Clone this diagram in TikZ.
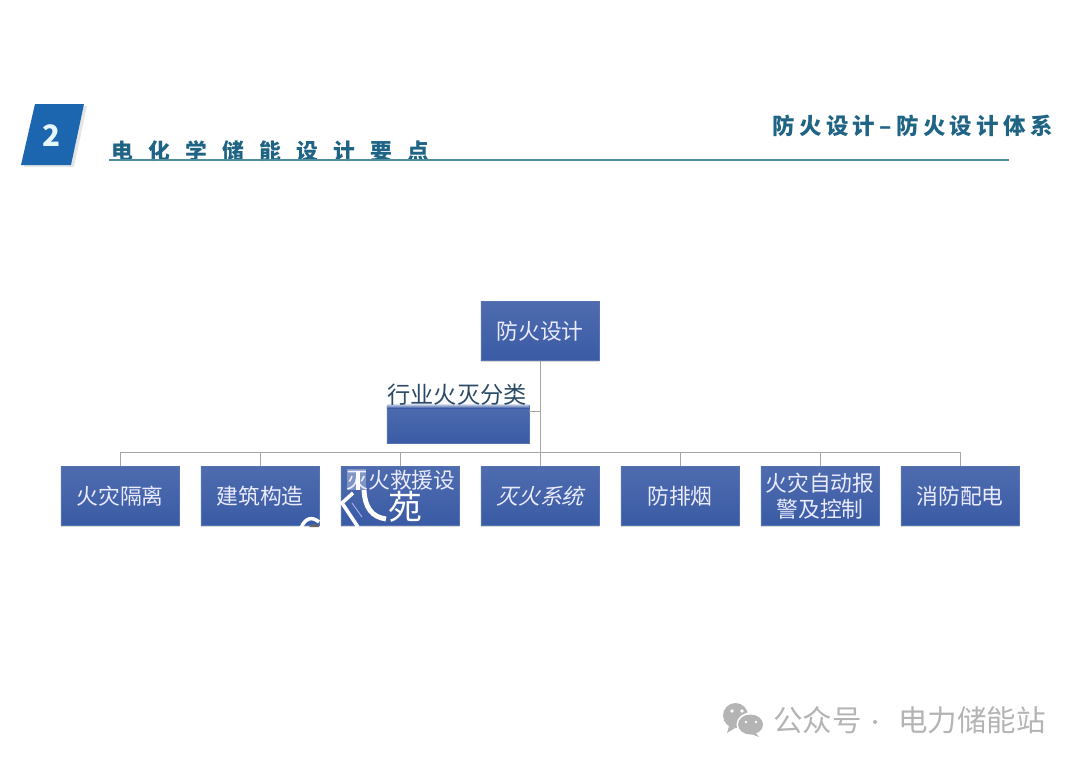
\documentclass[tikz,border=0pt]{standalone}
\usepackage{fontspec}
\usepackage{xcolor}
\setmainfont{Noto Sans CJK SC}
\newfontfamily\slantcjk[FakeSlant=0.25]{Noto Sans CJK SC}
\newfontfamily\titlecjk[LetterSpace=70]{Noto Sans CJK SC}
\newfontfamily\subcjk[LetterSpace=19]{Noto Sans CJK SC}
\usetikzlibrary{arrows,shapes,positioning,fit,calc,shadows}
\definecolor{boxblue}{HTML}{3A5BA5}
\definecolor{boxedge}{HTML}{5573B0}
\definecolor{headblue}{HTML}{1B66AE}
\definecolor{headtext}{HTML}{1F6485}
\definecolor{headline}{HTML}{4F8C9C}
\definecolor{labeltext}{HTML}{2B4A66}
\definecolor{wire}{HTML}{A6A6A6}
\definecolor{markgray}{HTML}{B4B4B4}
\tikzset{
  blockbox/.style={rectangle,draw=boxedge,line width=0.4pt,top color=boxblue!90!white,bottom color=boxblue,
    drop shadow={opacity=0.3,shadow xshift=0pt,shadow yshift=-1pt},
    minimum width=2.95cm,minimum height=1.47cm,inner sep=0pt,align=center,text=white!92!blue,
    font=\fontsize{15.5pt}{19pt}\selectfont},
  wireline/.style={draw=wire,line width=0.7pt},
  marktext/.style={text=markgray,font=\fontsize{21pt}{25pt}\selectfont,inner sep=0pt}
}
\begin{document}
\begin{tikzpicture}[x=0.025cm,y=-0.025cm]
\useasboundingbox (0,0) rectangle (1080,764);
% Heading
\fill[black!10] (38,106) -- (87,106) -- (74,167) -- (24,167) -- cycle;
\fill[headblue] (35,104) -- (84,104) -- (71,165) -- (21,165) -- cycle;
\node[text=white!90!cyan,font=\fontsize{21pt}{24pt}\selectfont\bfseries,inner sep=0pt] (badge) at (51,136) {2};
\node[anchor=west,text=headtext,inner sep=0pt,font=\fontsize{15.5pt}{18pt}\titlecjk\bfseries] (title) at (111,151) {电化学储能设计要点};
\node[anchor=east,text=headtext,inner sep=0pt,font=\fontsize{16pt}{18pt}\subcjk\bfseries] (subtitle) at (1053,126) {防火设计–防火设计体系};
\coordinate (rulel) at (109,160);
\coordinate (ruler) at (1009,160);
\draw[draw=headline,line width=0.8pt] (rulel) -- (ruler);

% Top and side blocks
\node[blockbox] (fire) at (540,331) {防火设计};
\node[blockbox,minimum width=3.55cm,minimum height=0.95cm] (side) at (458,424) {};
\fill[top color=white,bottom color=boxblue] (387,403) rectangle (529,408);
\node[text=labeltext,inner sep=0pt,font=\fontsize{16.5pt}{19pt}\selectfont] (sidelabel) at (457,395) {行业火灭分类};

% Row of blocks
\node[blockbox] (isol) at (120,496) {火灾隔离};
\node[blockbox] (build) at (260,496) {建筑构造};
\node[blockbox] (rescue) at (400,496) {};
\node[blockbox] (ext) at (540,496) {\slantcjk 灭火系统};
\node[blockbox] (smoke) at (680,496) {防排烟};
\node[blockbox] (alarm) at (820,496) {火灾自动报\\警及控制};
\node[blockbox] (power) at (960,496) {消防配电};

% Connectors
\coordinate (bus) at (540,452.5);
\draw[wireline] (fire.south) -- (ext.north);
\draw[wireline] (side.east |- 0,411) -- (540,411);
\draw[wireline] (isol.north) |- (bus);
\draw[wireline] (build.north) |- (bus);
\draw[wireline] (rescue.north) |- (bus);
\draw[wireline] (smoke.north) |- (bus);
\draw[wireline] (alarm.north) |- (bus);
\draw[wireline] (power.north) |- (bus);

% Stamp over the third block
\node[text=white!92!blue,inner sep=0pt,font=\fontsize{15.5pt}{19pt}\selectfont] (rescuetext) at (401,480) {灭火救援设};
\node[text=white,inner sep=0pt,font=\fontsize{24pt}{27pt}\selectfont] (stamp) at (405,507) {苑};
\fill[white,opacity=0.3] (347,469) rectangle (366,490);
\draw[white,line width=2.5pt] (358,471) -- (358,490);
\draw[white,line width=3.5pt] (364,490) .. controls (365,508) and (372,517) .. (386,519);
\draw[white,line width=2.5pt] (353,493) -- (342,503) -- (358,527);
\draw[white!70!blue,line width=0.6pt] (352,503) -- (362,517);
\draw[white,line width=2.5pt] (301,528) .. controls (305,518) and (312,516) .. (319,522);
\fill[black!60] (309,527) -- (313,524) -- (319,525) -- (319,527) -- cycle;

% Mark at bottom right
\fill[markgray] (735.5,715.5) ellipse [x radius=12.5,y radius=12.5];
\fill[markgray] (729,726) -- (727,733) -- (735,728) -- cycle;
\fill[white] (750.5,724.5) ellipse [x radius=14,y radius=12];
\fill[markgray] (750.5,724.5) ellipse [x radius=12.5,y radius=10];
\fill[markgray] (755,732) -- (759,737) -- (751,734) -- cycle;
\fill[white] (732,711) circle (1.8);
\fill[white] (742,711) circle (1.8);
\fill[white] (746,722) circle (1.4);
\fill[white] (756,722) circle (1.4);
\node[marktext,anchor=west] (markleft) at (773,720) {公众号};
\fill[markgray] (875,722) circle (2);
\node[marktext,anchor=east] (markright) at (1046,720) {电力储能站};
\end{tikzpicture}
\end{document}
